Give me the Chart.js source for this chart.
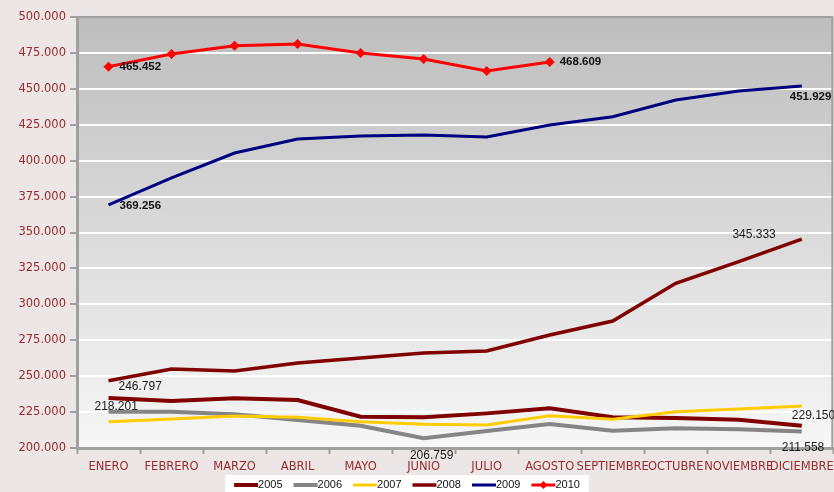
<!DOCTYPE html>
<html>
<head>
<meta charset="utf-8">
<script src="https://cdn.jsdelivr.net/npm/chart.js@4.4.1/dist/chart.umd.min.js"></script>
<style>
  body { margin: 0; background: #ece6e6; overflow: hidden; }
  canvas { display: block; }
</style>
</head>
<body>
<!-- a bit wider than the window: the last month label is allowed to run off the edge -->
<canvas id="myChart" width="840" height="492"></canvas>
<script>
// months on the x axis
const MESES = ['ENERO', 'FEBRERO', 'MARZO', 'ABRIL', 'MAYO', 'JUNIO', 'JULIO',
  'AGOSTO', 'SEPTIEMBRE', 'OCTUBRE', 'NOVIEMBRE', 'DICIEMBRE']

// one array per year
const Y2005 = [234800, 232700, 234600, 233400, 221800, 221400, 224100, 227600, 221400, 220800, 219700, 215500]
const Y2006 = [225300, 225300, 223500, 219500, 215500, 206759, 211800, 216700, 212000, 213700, 213000, 211558]
const Y2007 = [218201, 220200, 222300, 221400, 218300, 216500, 216000, 222500, 220000, 225300, 227200, 229150]
const Y2008 = [246797, 255000, 253600, 259200, 262600, 266100, 267500, 278700, 288400, 314600, 329700, 345333]
const Y2009 = [369256, 388000, 405300, 415100, 417200, 417900, 416500, 424800, 430600, 442200, 448500, 451929]
const Y2010 = [465452, 474200, 480000, 481200, 475000, 470800, 462400, 468609, null, null, null, null]

const YEARS = ['2005', '2006', '2007', '2008', '2009', '2010']

// y axis range
const Y_MIN = 200000
const Y_MAX = 500000
const Y_STEP = 25000

const TICK_RED = '#9b2a2e'

// 465452 -> "465.452"
function fmt(v) {
  return Math.round(v).toString().replace(/\B(?=(\d{3})+(?!\d))/g, '.')
}

// which points get a value written next to them: dataset, index, where
const labelSpots = [
  { ds: 5, i: 0, align: 'left', dx: 11, dy: 0, bold: true },
  { ds: 5, i: 7, align: 'left', dx: 10, dy: 0, bold: true },
  { ds: 4, i: 0, align: 'left', dx: 11, dy: 1, bold: true },
  { ds: 4, i: 11, align: 'left', dx: -12, dy: 11, bold: true },
  { ds: 3, i: 0, align: 'left', dx: 10, dy: 6, bold: false },
  { ds: 3, i: 11, align: 'right', dx: -26, dy: -5, bold: false },
  { ds: 2, i: 0, align: 'left', dx: -14, dy: -15, bold: false },
  { ds: 2, i: 11, align: 'left', dx: -10, dy: 10, bold: false },
  { ds: 1, i: 5, align: 'center', dx: 8, dy: 17, bold: false },
  { ds: 1, i: 11, align: 'left', dx: -20, dy: 16, bold: false }
]

const plotBackground = {
  id: 'plotBackground',
  beforeDraw(chart) {
    const a = chart.chartArea
    const ctx = chart.ctx
    const g = ctx.createLinearGradient(0, a.top, 0, a.bottom)
    g.addColorStop(0, '#bdbdbd')
    g.addColorStop(1, '#f7f7f7')
    ctx.save()
    ctx.fillStyle = g
    ctx.fillRect(a.left, a.top, a.right - a.left, a.bottom - a.top)
    ctx.restore()
  },
  afterDatasetsDraw(chart) {
    // gray frame on top and right side
    const a = chart.chartArea
    const ctx = chart.ctx
    ctx.save()
    ctx.strokeStyle = '#a0a0a0'
    ctx.lineWidth = 2
    ctx.beginPath()
    ctx.moveTo(a.left, a.top)
    ctx.lineTo(a.right - 1, a.top)
    ctx.lineTo(a.right - 1, a.bottom)
    ctx.stroke()
    ctx.restore()
  }
}

const valueLabels = {
  id: 'valueLabels',
  afterDraw(chart) {
    const ctx = chart.ctx
    ctx.save()
    ctx.textBaseline = 'middle'
    labelSpots.forEach(function (s) {
      const pt = chart.getDatasetMeta(s.ds).data[s.i]
      const v = chart.data.datasets[s.ds].data[s.i]
      ctx.font = s.bold ? 'bold 11.5px "Liberation Sans"' : '12px "Liberation Sans"'
      ctx.fillStyle = s.bold ? '#111' : '#1a1a1a'
      ctx.textAlign = s.align
      ctx.fillText(fmt(v), pt.x + s.dx, pt.y + s.dy)
    })
    ctx.restore()
  }
}

// white legend box at the bottom
const bottomLegend = {
  id: 'bottomLegend',
  afterDraw(chart) {
    const ctx = chart.ctx
    const sets = chart.data.datasets
    ctx.save()
    ctx.font = '11px "Liberation Sans"'
    const sample = 24
    const gap = 11
    let total = 0
    sets.forEach(function (d, k) {
      total += sample + ctx.measureText(d.label).width + (k > 0 ? gap : 0)
    })
    const cx = 407
    const y = 485
    let x = cx - total / 2
    ctx.fillStyle = '#ffffff'
    ctx.fillRect(x - 9, 475, total + 18, 17)
    ctx.textBaseline = 'middle'
    ctx.textAlign = 'left'
    sets.forEach(function (d) {
      ctx.strokeStyle = d.borderColor
      ctx.lineWidth = d.borderWidth
      ctx.beginPath()
      ctx.moveTo(x, y)
      ctx.lineTo(x + sample, y)
      ctx.stroke()
      if (d.pointStyle === 'rectRot') {
        ctx.fillStyle = d.borderColor
        ctx.beginPath()
        ctx.moveTo(x + sample / 2, y - 4)
        ctx.lineTo(x + sample / 2 + 4, y)
        ctx.lineTo(x + sample / 2, y + 4)
        ctx.lineTo(x + sample / 2 - 4, y)
        ctx.closePath()
        ctx.fill()
      }
      x += sample
      ctx.fillStyle = '#111'
      ctx.fillText(d.label, x, y)
      x += ctx.measureText(d.label).width + gap
    })
    ctx.restore()
  }
}

function line(label, data, color, width, order) {
  return {
    label: label,
    data: data,
    borderColor: color,
    backgroundColor: color,
    borderWidth: width,
    pointRadius: 0,
    tension: 0,
    fill: false,
    order: order
  }
}

const datasets = [
  line(YEARS[0], Y2005, '#800000', 4, 5),
  line(YEARS[1], Y2006, '#858585', 4, 4),
  line(YEARS[2], Y2007, '#ffcc00', 3, 3),
  line(YEARS[3], Y2008, '#800000', 3.5, 2),
  line(YEARS[4], Y2009, '#000080', 3, 1),
  line(YEARS[5], Y2010, '#ff0000', 3, 0)
]
datasets[5].pointStyle = 'rectRot'
datasets[5].pointRadius = 5
datasets[5].pointBorderWidth = 0

var ctx = document.getElementById('myChart').getContext('2d')
var chart = new Chart(ctx, {
  type: 'line',
  data: { labels: MESES, datasets: datasets },
  plugins: [plotBackground, valueLabels, bottomLegend],
  options: {
    responsive: false,
    animation: false,
    layout: { padding: { top: 17, right: 0, left: 0, bottom: 0 } },
    plugins: {
      legend: { display: false },
      tooltip: { enabled: false }
    },
    scales: {
      x: {
        offset: true,
        afterFit(scale) { scale.height = 44 },
        grid: {
          offset: true,
          drawOnChartArea: false,
          drawTicks: true,
          tickLength: 6,
          tickColor: '#a0a0a0',
          tickWidth: 2
        },
        border: { color: '#a0a0a0', width: 3 },
        ticks: {
          autoSkip: false,
          maxRotation: 0,
          minRotation: 0,
          padding: 6,
          color: TICK_RED,
          font: { family: 'DejaVu Sans', size: 11.5 }
        }
      },
      y: {
        min: Y_MIN,
        max: Y_MAX,
        afterFit(scale) { scale.width = 77 },
        grid: {
          color: '#ffffff',
          lineWidth: 2,
          tickLength: 7,
          tickColor: '#a0a0a0',
          tickWidth: 2
        },
        border: { color: '#a0a0a0', width: 3 },
        ticks: {
          stepSize: Y_STEP,
          padding: 4,
          color: TICK_RED,
          font: { family: 'DejaVu Sans', size: 11.5 },
          callback: function (v) { return fmt(v) }
        }
      }
    }
  }
})
</script>
</body>
</html>
